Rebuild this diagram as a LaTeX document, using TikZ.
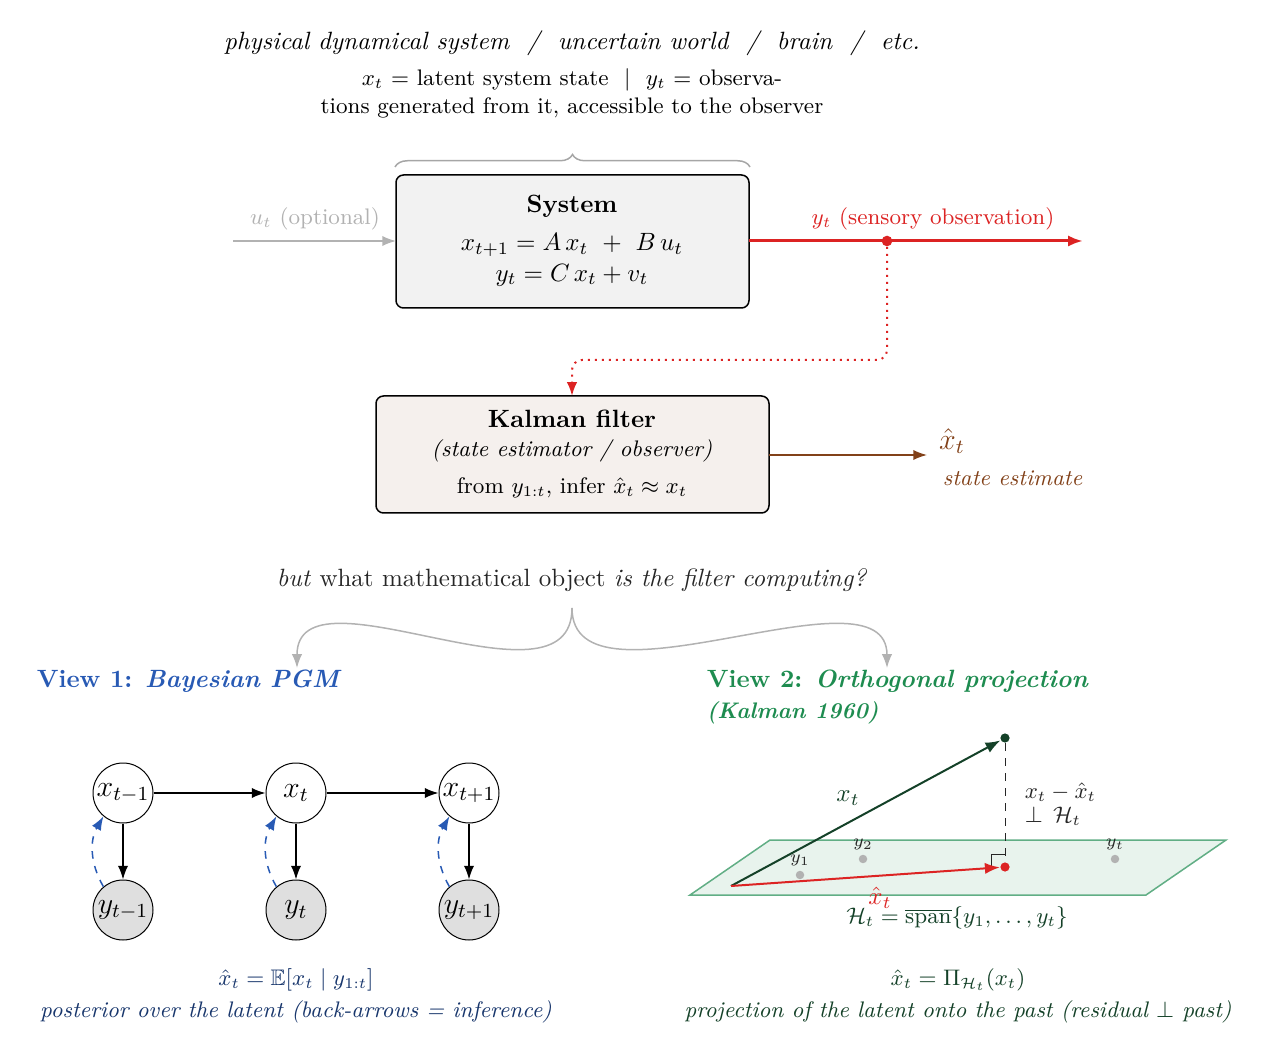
\documentclass[tikz,border=0pt]{standalone}
\usepackage{amsmath,amssymb}
\usetikzlibrary{arrows.meta,decorations.pathreplacing}
\begin{document}
\begin{tikzpicture}[x=0.4pt,y=-0.4pt,
 box/.style={draw,semithick,rounded corners=3pt,align=center},
 var/.style={draw,circle,minimum size=24pt,inner sep=0pt,font=\large},
 obs/.style={var,fill=gray!25},
 arr/.style={-{Latex[length=5.5pt]},semithick}]
\definecolor{vblue}{RGB}{40,90,180}
\definecolor{vgreen}{RGB}{30,140,80}
\definecolor{dgreen}{RGB}{20,65,40}
\definecolor{kred}{RGB}{220,35,35}
\definecolor{kbrown}{RGB}{130,65,25}
\useasboundingbox (0,0) rectangle (1272,1057);
\node (t1) at (572,43) {\itshape physical dynamical system \ / \ uncertain world \ / \ brain \ / \ etc.};
\node[font=\small] (t2) at (572,80) {$x_t$ = latent system state \ $|$ \ $y_t$ = observa-};
\node[font=\small] (t3) at (572,108) {tions generated from it, accessible to the observer};
\draw[gray!70,semithick,decorate,decoration={brace,amplitude=5pt}] (395,167) -- (750,167);
\draw[box,fill=gray!10] (396,175) rectangle (749,308);
\node[font=\bfseries] (st) at (572,206) {System};
\node (se1) at (572,245) {$x_{t+1} = A\,x_t \ + \ B\,u_t$};
\node (se2) at (572,275) {$y_t = C\,x_t + v_t$};
\coordinate (uin) at (233,241); \coordinate (sl) at (396,241); \coordinate (sr) at (749,241);
\draw[arr,gray!60] (uin) -- (sl);
\node[gray!60,font=\small] (ul) at (315,219) {$u_t$ (optional)};
\coordinate (yend) at (1083,241);
\draw[kred,very thick,-{Latex[length=6pt]}] (sr) -- (yend);
\node[kred,font=\small] (yl) at (933,219) {$y_t$ (sensory observation)};
\node[circle,fill=kred,inner sep=1.5pt] (dot) at (887,241) {};
\draw[box,fill=kbrown!8] (376,396) rectangle (769,513);
\node[font=\bfseries] (kt) at (572,419) {Kalman filter};
\node[font=\small] (ks) at (572,451) {\itshape (state estimator / observer)};
\node[font=\small] (kx) at (572,488) {from $y_{1:t}$, infer $\hat{x}_t\approx x_t$};
\coordinate (ktop) at (572,396);
\draw[kred,thick,dotted,rounded corners=4pt,-{Latex[length=5.5pt]}] (dot) -- (887,360) -- (572,360) -- (ktop);
\coordinate (kr) at (769,455); \coordinate (ke) at (927,455);
\draw[arr,kbrown] (kr) -- (ke);
\node[kbrown,font=\large] (xh) at (952,441) {$\hat{x}_t$};
\node[kbrown,font=\small\itshape,anchor=west] (sel) at (934,478) {state estimate};
\node[gray!30!black,font=\normalsize] (q) at (572,580) {\textit{but} what mathematical object \textit{is the filter computing?}};
\coordinate (qb) at (572,608); \coordinate (v1) at (297,668); \coordinate (v2) at (887,668);
\draw[gray!60,semithick,-{Latex[length=5.5pt]}] (qb) .. controls (572,720) and (297,560) .. (v1);
\draw[gray!60,semithick,-{Latex[length=5.5pt]}] (qb) .. controls (572,720) and (887,560) .. (v2);
\node[vblue,anchor=west,font=\bfseries] (V1) at (28,681) {View 1: \textit{Bayesian PGM}};
\node[vgreen,anchor=west,font=\bfseries] (V2) at (698,681) {View 2: \textit{Orthogonal projection}};
\node[vgreen,anchor=west,font=\bfseries\itshape\small] (V2b) at (698,713) {(Kalman 1960)};
% PGM
\node[var] (x1) at (123,793) {$x_{t-1}$};
\node[var] (x2) at (296,793) {$x_t$};
\node[var] (x3) at (469,793) {$x_{t+1}$};
\node[obs] (y1) at (123,910) {$y_{t-1}$};
\node[obs] (y2) at (296,910) {$y_t$};
\node[obs] (y3) at (469,910) {$y_{t+1}$};
\foreach \i in {1,2,3}{
 \draw[arr] (x\i) -- (y\i);
 \draw[vblue,semithick,dashed,-{Latex[length=5.5pt]}] (y\i.130) to[bend left=30] (x\i.230);}
\draw[arr] (x1) -- (x2);
\draw[arr] (x2) -- (x3);
\node[vblue!60!black,font=\small] (c1) at (296,980) {$\hat{x}_t = \mathbb{E}[x_t \mid y_{1:t}]$};
\node[vblue!60!black,font=\small\itshape] (c2) at (296,1012) {posterior over the latent (back-arrows = inference)};
% projection
\draw[vgreen!70,semithick,fill=vgreen!10] (690,895) -- (770,840) -- (1226,840) -- (1146,895) -- cycle;
\coordinate (o) at (731,886);
\node[circle,fill=dgreen,inner sep=1.3pt] (xt) at (1005,738) {};
\node[circle,fill=kred,inner sep=1.3pt] (pr) at (1005,867) {};
\draw[dashed,gray!30!black] (xt) -- (pr);
\draw[gray!30!black,thin] (991,867) -- (991,854) -- (1005,854);
\draw[dgreen,thick,-{Latex[length=6pt]}] (o) -- (xt);
\draw[kred,thick,-{Latex[length=6pt]}] (o) -- (pr);
\foreach \n/\p/\l in {a/{800,875}/y_1,b/{863,859}/y_2,c/{1115,859}/y_t}{
 \node[circle,fill=gray!60,inner sep=1.2pt] (d\n) at (\p) {};
 \node[gray!30!black,font=\scriptsize,above=0pt] at (d\n) {$\l$};}
\node[dgreen] (lx) at (848,798) {$x_t$};
\node[kred] (lxh) at (880,898) {$\hat{x}_t$};
\node[gray!30!black,anchor=west,font=\small] (lr) at (1016,792) {$x_t-\hat{x}_t$};
\node[gray!30!black,anchor=west,font=\small] (lr2) at (1016,816) {$\perp\,\mathcal{H}_t$};
\node[dgreen,font=\small] (lh) at (957,918) {$\mathcal{H}_t = \overline{\mathrm{span}}\{y_1,\dots,y_t\}$};
\node[dgreen,font=\small] (c3) at (958,980) {$\hat{x}_t = \Pi_{\mathcal{H}_t}(x_t)$};
\node[dgreen,font=\small\itshape] (c4) at (958,1012) {projection of the latent onto the past (residual $\perp$ past)};
\end{tikzpicture}
\end{document}
